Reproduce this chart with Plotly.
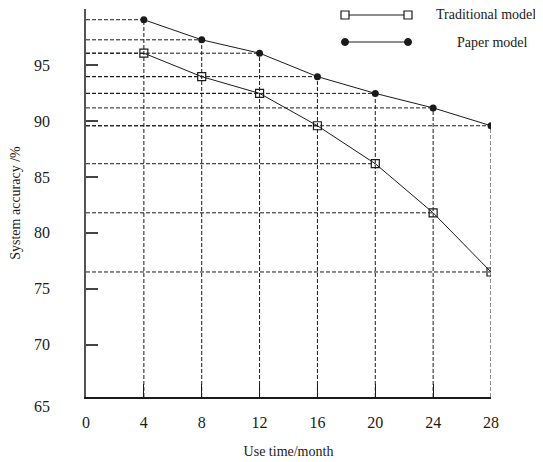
import plotly.graph_objects as go

months = [4, 8, 12, 16, 20, 24, 28]
traditional = [96.1, 94.0, 92.5, 89.6, 86.2, 81.8, 76.5]
paper = [99.1, 97.3, 96.1, 94.0, 92.5, 91.2, 89.6]
x_ticks = [0, 4, 8, 12, 16, 20, 24, 28]
y_ticks = [70, 75, 80, 85, 90, 95, 100]
y_labels = [65, 70, 75, 80, 85, 90, 95]
series_names = ["Traditional model", "Paper model"]

Y_MIN, Y_MAX = 65.3, 100.06
FONT = "Liberation Serif, Times New Roman, serif"
INK = "#1a1a1a"

# page body adds an 8px offset; size the figure so the visible area matches
OFF = 8
FIG_W, FIG_H = 543 - OFF, 462 - OFF
ML, MR, MT, MB = 86 - OFF, 52, 9 - OFF, 65
W = FIG_W - ML - MR
H = FIG_H - MT - MB

fig = go.Figure()

shapes = []
dash = dict(color=INK, width=1, dash="4px,2px")
for xs, ys in ((months, traditional), (months, paper)):
    for xv, yv in zip(xs, ys):
        shapes.append(dict(type="line", xref="x", yref="y", x0=0, x1=xv,
                           y0=yv, y1=yv, line=dash, layer="below"))
for xv, a, b in zip(months, traditional, paper):
    shapes.append(dict(type="line", xref="x", yref="y", x0=xv, x1=xv,
                       y0=Y_MIN, y1=max(a, b), line=dash, layer="below"))

fig.add_trace(go.Scatter(
    x=months, y=traditional, mode="lines+markers", name=series_names[0],
    line=dict(color=INK, width=1),
    marker=dict(symbol="square-open", size=8, color=INK, line=dict(width=1.2)),
    showlegend=False))
fig.add_trace(go.Scatter(
    x=months, y=paper, mode="lines+markers", name=series_names[1],
    line=dict(color=INK, width=1),
    marker=dict(symbol="circle", size=7, color=INK),
    showlegend=False))

# screen-pixel -> paper helpers (screen coords of the reference)
def px_x(p):
    return (p - 86) / W
def px_y(p):
    return (397 - p) / H

rows = [(15, "square", 538, "right"), (42, "circle", 491.5, "center")]
annotations = []
for (ry, kind, tx, anchor), name in zip(rows, series_names):
    yy = px_y(ry)
    x0, x1 = px_x(345), px_x(408)
    shapes.append(dict(type="line", xref="paper", yref="paper",
                       x0=x0, x1=x1, y0=yy, y1=yy, line=dict(color=INK, width=1)))
    for xa in (x0, x1):
        if kind == "square":
            shapes.append(dict(type="rect", xref="paper", yref="paper",
                               xsizemode="pixel", ysizemode="pixel",
                               xanchor=xa, yanchor=yy, x0=-4, x1=4, y0=-4, y1=4,
                               line=dict(color=INK, width=1.2), fillcolor="white"))
        else:
            shapes.append(dict(type="circle", xref="paper", yref="paper",
                               xsizemode="pixel", ysizemode="pixel",
                               xanchor=xa, yanchor=yy, x0=-3.5, x1=3.5, y0=-3.5, y1=3.5,
                               line=dict(color=INK, width=1), fillcolor=INK))
    annotations.append(dict(text=name, xref="paper", yref="paper", x=px_x(tx), y=yy,
                            xanchor=anchor, yanchor="middle", showarrow=False,
                            font=dict(family=FONT, size=14, color=INK)))

# y tick labels drawn away from the axis (65 sits just below the corner)
for v in y_labels:
    yp = (v - Y_MIN) / (Y_MAX - Y_MIN)
    annotations.append(dict(text=str(v), xref="paper", yref="paper", x=0, y=yp,
                            xshift=-34, yshift=(-6 if v == 65 else 0),
                            xanchor="right", yanchor="middle", showarrow=False,
                            font=dict(family=FONT, size=16, color=INK)))

fig.update_layout(
    width=FIG_W, height=FIG_H,
    margin=dict(l=ML, r=MR, t=MT, b=MB, pad=0),
    paper_bgcolor="white", plot_bgcolor="white",
    shapes=shapes, annotations=annotations,
    font=dict(family=FONT, size=16, color=INK),
)
fig.update_xaxes(
    range=[0, 28], tickvals=x_ticks, ticktext=[str(v) for v in x_ticks],
    tickfont=dict(family=FONT, size=16),
    showgrid=False, zeroline=False, showline=True, linecolor=INK, linewidth=1.5,
    ticks="inside", ticklen=13, tickcolor=INK, tickwidth=1.2,
    ticklabelstandoff=10,
    title=dict(text="Use time/month", font=dict(family=FONT, size=14), standoff=16),
)
fig.update_yaxes(
    range=[Y_MIN, Y_MAX], tickvals=y_ticks, showticklabels=False,
    showgrid=False, zeroline=False, showline=True, linecolor="#555555", linewidth=2,
    ticks="inside", ticklen=12, tickcolor="#444444", tickwidth=1.5,
    title=dict(text="System accuracy /%", font=dict(family=FONT, size=14), standoff=62),
)

fig.write_html("out.html")
